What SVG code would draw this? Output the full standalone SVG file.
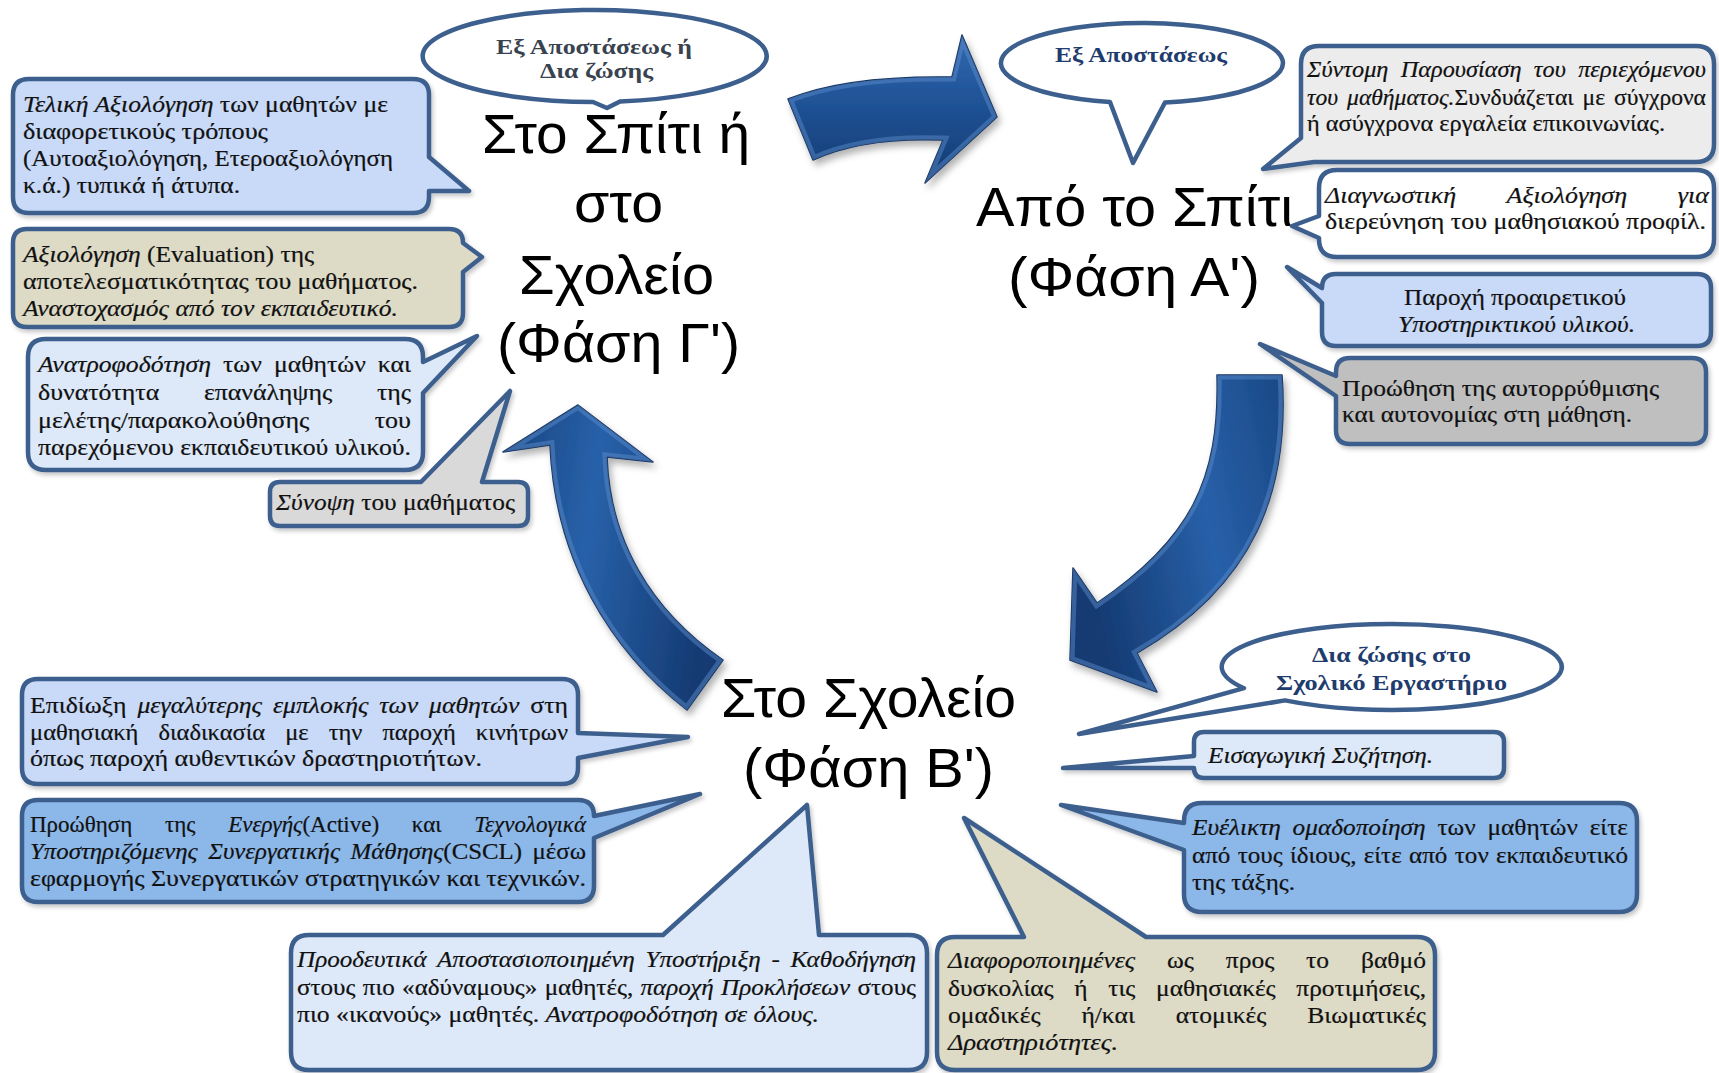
<svg xmlns="http://www.w3.org/2000/svg" width="1719" height="1073" viewBox="0 0 1719 1073">
  <style>
    .co { stroke: #3d5f8e; stroke-width: 4.5; stroke-linejoin: round; filter: url(#shadow); }
    .bubble { fill: #ffffff; stroke: #3d5f8e; stroke-width: 4.5; stroke-linejoin: round; }
    .f-blue { fill: #c8daf8; }
    .f-pale { fill: #dde9f9; }
    .f-mid { fill: #8bb7e9; }
    .f-khaki { fill: #dddbc6; }
    .f-grey { fill: #bfbfbf; }
    .f-lgrey { fill: #d9d9d9; }
    .f-xgrey { fill: #ececec; }
    .f-white { fill: #ffffff; }
    .t { font-family: "Liberation Serif", "Times New Roman", serif; font-size: 23px; fill: #111111; stroke: #111111; stroke-width: 0.2; }
    .i { font-style: italic; }
    .title { font-family: "Liberation Sans", Arial, sans-serif; font-size: 56px; fill: #000000; }
    .bt { font-family: "Liberation Serif", "Times New Roman", serif; font-size: 21px; font-weight: bold; }
    .navy { fill: #1f3c6e; }
    .slate { fill: #39434f; }
    .arrow { stroke: #14335f; stroke-width: 1.5; stroke-linejoin: round; filter: url(#ashadow); }
    .rim { fill: none; stroke: #5f90cf; stroke-width: 9; opacity: 0.45; }
  </style>
  <defs>
    <filter id="shadow" x="-10%" y="-10%" width="130%" height="140%">
      <feDropShadow dx="2" dy="3" stdDeviation="2" flood-color="#000" flood-opacity="0.22"/>
    </filter>
    <filter id="ashadow" x="-20%" y="-20%" width="150%" height="150%">
      <feDropShadow dx="3" dy="5" stdDeviation="3.5" flood-color="#000" flood-opacity="0.3"/>
    </filter>
    <linearGradient id="gTop" x1="0" y1="0" x2="0" y2="1">
      <stop offset="0" stop-color="#3169b0"/>
      <stop offset="0.5" stop-color="#1e5094"/>
      <stop offset="1" stop-color="#143a70"/>
    </linearGradient>
    <linearGradient id="gRight" x1="1" y1="0" x2="0" y2="0.3">
      <stop offset="0" stop-color="#1a4886"/>
      <stop offset="0.45" stop-color="#2860a8"/>
      <stop offset="1" stop-color="#153b73"/>
    </linearGradient>
    <linearGradient id="gLeft" x1="0" y1="0" x2="1" y2="0.2">
      <stop offset="0" stop-color="#18437f"/>
      <stop offset="0.45" stop-color="#2861a9"/>
      <stop offset="1" stop-color="#153b73"/>
    </linearGradient>
    <path id="arrowTop" d="M788,99 C830,82 890,76 952,77 L962,35 L997,117 L925,183 L943,140 C890,138 845,145 813,160 Z"/>
    <path id="arrowRight" d="M1217,375 L1282,375 C1290,490 1255,585 1137,653 L1157,692 L1070,660 L1073,568 L1097,603 C1190,540 1220,480 1217,375 Z"/>
    <path id="arrowLeft" d="M687,710 C610,650 555,560 550,445 L503,452 L578,405 L653,462 L607,457 C610,540 650,610 723,660 Z"/>
    <clipPath id="cTop"><use href="#arrowTop"/></clipPath>
    <clipPath id="cRight"><use href="#arrowRight"/></clipPath>
    <clipPath id="cLeft"><use href="#arrowLeft"/></clipPath>
  </defs>

  <rect width="1719" height="1073" fill="#ffffff"/>

  <!-- cycle arrows between the three phases -->
  <g id="connectors">
    <g id="arrow-c-to-a">
      <use href="#arrowTop" class="arrow" fill="url(#gTop)"/>
      <use href="#arrowTop" class="rim" clip-path="url(#cTop)"/>
    </g>
    <g id="arrow-a-to-b">
      <use href="#arrowRight" class="arrow" fill="url(#gRight)"/>
      <use href="#arrowRight" class="rim" clip-path="url(#cRight)"/>
    </g>
    <g id="arrow-b-to-c">
      <use href="#arrowLeft" class="arrow" fill="url(#gLeft)"/>
      <use href="#arrowLeft" class="rim" clip-path="url(#cLeft)"/>
    </g>
  </g>

  <!-- phase titles -->
  <g id="phase-c">
    <text class="title" x="482" y="153" textLength="268" lengthAdjust="spacingAndGlyphs">Στο Σπίτι ή</text>
    <text class="title" x="574" y="222" textLength="89" lengthAdjust="spacingAndGlyphs">στο</text>
    <text class="title" x="519" y="294" textLength="195" lengthAdjust="spacingAndGlyphs">Σχολείο</text>
    <text class="title" x="497" y="362" textLength="243" lengthAdjust="spacingAndGlyphs">(Φάση Γ')</text>
  </g>
  <g id="phase-a">
    <text class="title" x="976" y="226" textLength="317" lengthAdjust="spacingAndGlyphs">Από το Σπίτι</text>
    <text class="title" x="1008" y="296" textLength="252" lengthAdjust="spacingAndGlyphs">(Φάση Α')</text>
  </g>
  <g id="phase-b">
    <text class="title" x="721" y="717" textLength="295" lengthAdjust="spacingAndGlyphs">Στο Σχολείο</text>
    <text class="title" x="743" y="787" textLength="251" lengthAdjust="spacingAndGlyphs">(Φάση Β')</text>
  </g>

  <!-- speech bubbles: delivery mode of each phase -->
  <g id="mode-c">
    <path class="bubble" d="M593,102 A172,46 0 1 1 620,101.5 L607,108 Z"/>
    <text class="bt slate" x="496" y="54" textLength="196" lengthAdjust="spacingAndGlyphs">Εξ Αποστάσεως ή</text>
    <text class="bt slate" x="540" y="78" textLength="113" lengthAdjust="spacingAndGlyphs">Δια ζώσης</text>
  </g>
  <g id="mode-a">
    <path class="bubble" d="M1110,102 A141,40 0 1 1 1165,102.5 L1133,163 Z"/>
    <text class="bt navy" x="1055" y="62" textLength="172" lengthAdjust="spacingAndGlyphs">Εξ Αποστάσεως</text>
  </g>
  <g id="mode-b">
    <path class="bubble" d="M1285,700.4 A170,43 0 1 0 1244,688.2 L1079,734 Z"/>
    <text class="bt navy" x="1312" y="662" textLength="159" lengthAdjust="spacingAndGlyphs">Δια ζώσης στο</text>
    <text class="bt navy" x="1276" y="690" textLength="231" lengthAdjust="spacingAndGlyphs">Σχολικό Εργαστήριο</text>
  </g>

  <!-- phase C callouts -->
  <g id="c-final-assessment">
    <path class="co f-blue" d="M29,79 H413 Q429,79 429,95 V157 L469,191 L429,191 V197 Q429,213 413,213 H29 Q13,213 13,197 V95 Q13,79 29,79 Z"/>
    <text class="t" x="23" y="112" textLength="365" lengthAdjust="spacingAndGlyphs"><tspan class="i">Τελική Αξιολόγηση</tspan> των μαθητών με</text>
    <text class="t" x="23" y="139" textLength="245" lengthAdjust="spacingAndGlyphs">διαφορετικούς τρόπους</text>
    <text class="t" x="23" y="166" textLength="370" lengthAdjust="spacingAndGlyphs">(Αυτοαξιολόγηση, Ετεροαξιολόγηση</text>
    <text class="t" x="23" y="193" textLength="217" lengthAdjust="spacingAndGlyphs">κ.ά.) τυπικά ή άτυπα.</text>
  </g>
  <g id="c-evaluation">
    <path class="co f-khaki" d="M27,229 H449 Q463,229 463,243 L482,257 L463,272 V313 Q463,327 449,327 H27 Q13,327 13,313 V243 Q13,229 27,229 Z"/>
    <text class="t" x="23" y="262" textLength="291" lengthAdjust="spacingAndGlyphs"><tspan class="i">Αξιολόγηση</tspan> (Evaluation) της</text>
    <text class="t" x="23" y="289" textLength="395" lengthAdjust="spacingAndGlyphs">αποτελεσματικότητας του μαθήματος.</text>
    <text class="t i" x="23" y="316" textLength="375" lengthAdjust="spacingAndGlyphs">Αναστοχασμός από τον εκπαιδευτικό.</text>
  </g>
  <g id="c-feedback">
    <path class="co f-pale" d="M46,339 H405 Q423,339 423,357 V362 L477,336 L423,393 V452 Q423,470 405,470 H46 Q28,470 28,452 V357 Q28,339 46,339 Z"/>
    <text class="t" x="38" y="372" textLength="373" lengthAdjust="spacingAndGlyphs" word-spacing="5"><tspan class="i">Ανατροφοδότηση</tspan> των μαθητών και</text>
    <text class="t" x="38" y="400" textLength="373" lengthAdjust="spacingAndGlyphs" word-spacing="34">δυνατότητα επανάληψης της</text>
    <text class="t" x="38" y="428" textLength="373" lengthAdjust="spacingAndGlyphs" word-spacing="52">μελέτης/παρακολούθησης του</text>
    <text class="t" x="38" y="455" textLength="373" lengthAdjust="spacingAndGlyphs">παρεχόμενου εκπαιδευτικού υλικού.</text>
  </g>
  <g id="c-summary">
    <path class="co f-lgrey" d="M280,482 H421 L510,391 L482,482 H518 Q528,482 528,492 V516 Q528,526 518,526 H280 Q270,526 270,516 V492 Q270,482 280,482 Z"/>
    <text class="t" x="276" y="510" textLength="239" lengthAdjust="spacingAndGlyphs"><tspan class="i">Σύνοψη</tspan> του μαθήματος</text>
  </g>

  <!-- phase A callouts -->
  <g id="a-presentation">
    <path class="co f-xgrey" d="M1319,46 H1696 Q1714,46 1714,64 V144 Q1714,162 1696,162 H1314 L1263,169 L1301,138 V64 Q1301,46 1319,46 Z"/>
    <text class="t i" x="1307" y="77" textLength="399" lengthAdjust="spacingAndGlyphs" word-spacing="6">Σύντομη Παρουσίαση του περιεχόμενου</text>
    <text class="t" x="1307" y="105" textLength="399" lengthAdjust="spacingAndGlyphs" word-spacing="3"><tspan class="i">του μαθήματος.</tspan>Συνδυάζεται με σύγχρονα</text>
    <text class="t" x="1307" y="131" textLength="358" lengthAdjust="spacingAndGlyphs">ή ασύγχρονα εργαλεία επικοινωνίας.</text>
  </g>
  <g id="a-diagnostic">
    <path class="co f-white" d="M1337,170 H1696 Q1714,170 1714,188 V239 Q1714,257 1696,257 H1337 Q1319,257 1319,239 V238 L1292,226 L1319,216 V188 Q1319,170 1337,170 Z"/>
    <text class="t i" x="1325" y="203" textLength="384" lengthAdjust="spacingAndGlyphs" word-spacing="39">Διαγνωστική Αξιολόγηση για</text>
    <text class="t" x="1325" y="229" textLength="381" lengthAdjust="spacingAndGlyphs">διερεύνηση του μαθησιακού προφίλ.</text>
  </g>
  <g id="a-support">
    <path class="co f-blue" d="M1336,274 H1697 Q1711,274 1711,288 V332 Q1711,346 1697,346 H1336 Q1322,346 1322,332 V303 L1287,267 L1322,288 Q1322,274 1336,274 Z"/>
    <text class="t" x="1404" y="305" textLength="222" lengthAdjust="spacingAndGlyphs">Παροχή προαιρετικού</text>
    <text class="t i" x="1398" y="332" textLength="237" lengthAdjust="spacingAndGlyphs">Υποστηρικτικού υλικού.</text>
  </g>
  <g id="a-autonomy">
    <path class="co f-grey" d="M1350,358 H1692 Q1706,358 1706,372 V430 Q1706,444 1692,444 H1350 Q1336,444 1336,430 V396 L1260,344 L1336,376 V372 Q1336,358 1350,358 Z"/>
    <text class="t" x="1342" y="396" textLength="317" lengthAdjust="spacingAndGlyphs">Προώθηση της αυτορρύθμισης</text>
    <text class="t" x="1342" y="422" textLength="290" lengthAdjust="spacingAndGlyphs">και αυτονομίας στη μάθηση.</text>
  </g>

  <!-- phase B callouts -->
  <g id="b-engagement">
    <path class="co f-blue" d="M38,679 H562 Q578,679 578,695 V733 L688,737 L578,758 V768 Q578,784 562,784 H38 Q22,784 22,768 V695 Q22,679 38,679 Z"/>
    <text class="t" x="30" y="713" textLength="538" lengthAdjust="spacingAndGlyphs" word-spacing="4">Επιδίωξη <tspan class="i">μεγαλύτερης εμπλοκής των μαθητών</tspan> στη</text>
    <text class="t" x="30" y="740" textLength="538" lengthAdjust="spacingAndGlyphs" word-spacing="13">μαθησιακή διαδικασία με την παροχή κινήτρων</text>
    <text class="t" x="30" y="766" textLength="452" lengthAdjust="spacingAndGlyphs">όπως παροχή αυθεντικών δραστηριοτήτων.</text>
  </g>
  <g id="b-cscl">
    <path class="co f-mid" d="M38,800 H578 Q594,800 594,816 L700,794 L594,838 V886 Q594,902 578,902 H38 Q22,902 22,886 V816 Q22,800 38,800 Z"/>
    <text class="t" x="30" y="832" textLength="556" lengthAdjust="spacingAndGlyphs" word-spacing="27">Προώθηση της <tspan class="i">Ενεργής</tspan>(Active) και <tspan class="i">Τεχνολογικά</tspan></text>
    <text class="t" x="30" y="859" textLength="556" lengthAdjust="spacingAndGlyphs" word-spacing="4"><tspan class="i">Υποστηριζόμενης Συνεργατικής Μάθησης</tspan>(CSCL) μέσω</text>
    <text class="t" x="30" y="886" textLength="556" lengthAdjust="spacingAndGlyphs">εφαρμογής Συνεργατικών στρατηγικών και τεχνικών.</text>
  </g>
  <g id="b-scaffolding">
    <path class="co f-pale" d="M309,935 H663 L807,805 L819,935 H909 Q927,935 927,953 V1052 Q927,1070 909,1070 H309 Q291,1070 291,1052 V953 Q291,935 309,935 Z"/>
    <text class="t i" x="297" y="967" textLength="619" lengthAdjust="spacingAndGlyphs" word-spacing="4">Προοδευτικά Αποστασιοποιημένη Υποστήριξη - Καθοδήγηση</text>
    <text class="t" x="297" y="995" textLength="619" lengthAdjust="spacingAndGlyphs" word-spacing="1">στους πιο «αδύναμους» μαθητές, <tspan class="i">παροχή Προκλήσεων</tspan> στους</text>
    <text class="t" x="297" y="1022" textLength="522" lengthAdjust="spacingAndGlyphs">πιο «ικανούς» μαθητές. <tspan class="i">Ανατροφοδότηση σε όλους.</tspan></text>
  </g>
  <g id="b-differentiated">
    <path class="co f-khaki" d="M955,937 H1024 L964,818 L1146,937 H1417 Q1435,937 1435,955 V1052 Q1435,1070 1417,1070 H955 Q937,1070 937,1052 V955 Q937,937 955,937 Z"/>
    <text class="t" x="948" y="968" textLength="478" lengthAdjust="spacingAndGlyphs" word-spacing="23"><tspan class="i">Διαφοροποιημένες</tspan> ως προς το βαθμό</text>
    <text class="t" x="948" y="996" textLength="478" lengthAdjust="spacingAndGlyphs" word-spacing="13">δυσκολίας ή τις μαθησιακές προτιμήσεις,</text>
    <text class="t" x="948" y="1023" textLength="478" lengthAdjust="spacingAndGlyphs" word-spacing="31">ομαδικές ή/και ατομικές Βιωματικές</text>
    <text class="t i" x="948" y="1050" textLength="170" lengthAdjust="spacingAndGlyphs">Δραστηριότητες.</text>
  </g>
  <g id="b-grouping">
    <path class="co f-mid" d="M1202,803 H1619 Q1637,803 1637,821 V894 Q1637,912 1619,912 H1202 Q1184,912 1184,894 V850 L1061,805 L1184,823 V821 Q1184,803 1202,803 Z"/>
    <text class="t" x="1192" y="835" textLength="436" lengthAdjust="spacingAndGlyphs" word-spacing="5"><tspan class="i">Ευέλικτη ομαδοποίηση</tspan> των μαθητών είτε</text>
    <text class="t" x="1192" y="863" textLength="436" lengthAdjust="spacingAndGlyphs" word-spacing="1">από τους ίδιους, είτε από τον εκπαιδευτικό</text>
    <text class="t" x="1192" y="890" textLength="103" lengthAdjust="spacingAndGlyphs">της τάξης.</text>
  </g>
  <g id="b-intro">
    <path class="co f-pale" d="M1204,732 H1494 Q1504,732 1504,742 V768 Q1504,778 1494,778 H1204 Q1194,778 1194,768 L1063,768 L1194,756 V742 Q1194,732 1204,732 Z"/>
    <text class="t i" x="1208" y="763" textLength="225" lengthAdjust="spacingAndGlyphs">Εισαγωγική Συζήτηση.</text>
  </g>
</svg>
